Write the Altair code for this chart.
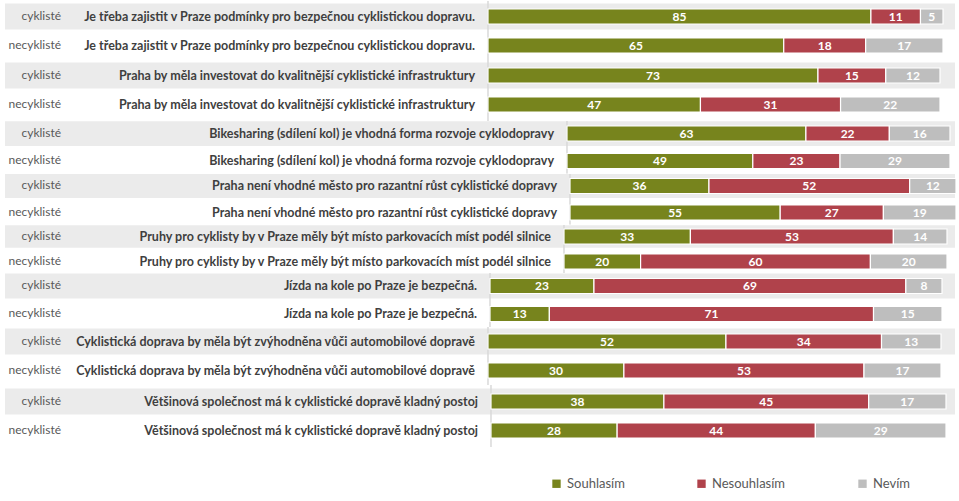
import altair as alt
import pandas as pd

statements = [
    "Je třeba zajistit v Praze podmínky pro bezpečnou cyklistickou dopravu.",
    "Praha by měla investovat do kvalitnější cyklistické infrastruktury",
    "Bikesharing (sdílení kol) je vhodná forma rozvoje cyklodopravy",
    "Praha není vhodné město pro razantní růst cyklistické dopravy",
    "Pruhy pro cyklisty by v Praze měly být místo parkovacích míst podél silnice",
    "Jízda na kole po Praze je bezpečná.",
    "Cyklistická doprava by měla být zvýhodněna vůči automobilové dopravě",
    "Většinová společnost má k cyklistické dopravě kladný postoj",
]
groups = ["cyklisté", "necyklisté"]
answers = ["Souhlasím", "Nesouhlasím", "Nevím"]

souhlasim_cykliste = [85, 73, 63, 36, 33, 23, 52, 38]
nesouhlasim_cykliste = [11, 15, 22, 52, 53, 69, 34, 45]
nevim_cykliste = [5, 12, 16, 12, 14, 8, 13, 17]
souhlasim_necykliste = [65, 47, 49, 55, 20, 13, 30, 28]
nesouhlasim_necykliste = [18, 31, 23, 27, 60, 71, 53, 44]
nevim_necykliste = [17, 22, 29, 19, 20, 15, 17, 29]

colors = ["#77841D", "#B0424B", "#BEBEBE"]

rows = []
vals = {
    "cyklisté": [souhlasim_cykliste, nesouhlasim_cykliste, nevim_cykliste],
    "necyklisté": [souhlasim_necykliste, nesouhlasim_necykliste, nevim_necykliste],
}
for si, st in enumerate(statements):
    for g in groups:
        for ai, a in enumerate(answers):
            rows.append({"sid": si, "statement": st, "group": g, "answer": a,
                         "order": ai, "value": vals[g][ai][si]})
df = pd.DataFrame(rows)

W = 950
# layout per panel: bar start px, bar end px (plot coords), panel height, row step, align
layout = [
    (483, 938, 60, 29, 0.5),
    (483, 935, 60, 29, 0.3),
    (562, 945, 52.5, 27.5, 0.5),
    (565, 951, 50.5, 26.5, 0.5),
    (559, 942, 48, 25, 0.5),
    (485, 937, 54, 28, 0.5),
    (483, 936, 58, 29, 0.5),
    (486, 941, 62, 29, 0.5),
]

FONT = "Lato"
color_scale = alt.Scale(domain=answers, range=colors)

panels = []
for si, (a, b, H, s, al) in enumerate(layout):
    unit = b - a
    d0 = -a / unit
    d1 = (W - a) / unit
    pi = 0.1
    po = max(0.0, (H / s - 2 + pi) / 2)
    xs = alt.Scale(domain=[d0, d1], nice=False, zero=False)
    ys = alt.Scale(domain=groups, paddingInner=pi, paddingOuter=po, align=al)
    y = alt.Y("group:N", scale=ys, axis=None)

    base = alt.Chart(df).transform_filter(alt.datum.sid == si)

    band = base.transform_filter(
        (alt.datum.group == "cyklisté") & (alt.datum.answer == "Souhlasím")
    ).mark_rect(color="#EBEBEB").encode(x=alt.value(0), x2=alt.value(W), y=y)

    rule = base.transform_filter(alt.datum.answer == "Souhlasím").transform_calculate(
        zero="0"
    ).mark_rule(color="#D9D9D9", strokeWidth=1).encode(
        x=alt.X("zero:Q", scale=xs, axis=None)
    )

    stacked = base.transform_stack(
        stack="value", groupby=["group"], as_=["x0", "x1"],
        offset="normalize", sort=[alt.SortField("order", order="ascending")]
    ).transform_calculate(mid="(datum.x0 + datum.x1) / 2")

    bars = stacked.mark_bar(size=15, stroke="white", strokeWidth=1.2).encode(
        x=alt.X("x0:Q", scale=xs, axis=None, title=None),
        x2="x1:Q",
        y=y,
        color=alt.Color("answer:N", scale=color_scale, sort=answers,
                        legend=alt.Legend(
                            title=None, orient="none", direction="horizontal",
                            legendX=545, legendY=476, symbolType="square",
                            symbolSize=70, symbolStrokeWidth=0,
                            labelFont=FONT, labelFontSize=13, labelColor="#595959",
                            columnPadding=70, labelOffset=4,
                        )),
    )
    labels = stacked.mark_text(
        font=FONT, fontSize=12, fontWeight="bold", color="white", baseline="middle"
    ).encode(x=alt.X("mid:Q", scale=xs, axis=None), y=y, text="value:Q")

    stmt = base.transform_filter(alt.datum.answer == "Souhlasím").transform_calculate(
        zero="0"
    ).mark_text(
        font=FONT, fontSize=12.5, fontWeight="bold", color="#3F3F3F",
        align="right", baseline="middle", dx=-13
    ).encode(x=alt.X("zero:Q", scale=xs, axis=None), y=y, text="statement:N")

    grp = base.transform_filter(alt.datum.answer == "Souhlasím").mark_text(
        font=FONT, fontSize=12, color="#595959", align="right", baseline="middle", dy=-1
    ).encode(x=alt.value(56), y=y, text="group:N")

    panel = alt.layer(band, rule, bars, labels, stmt, grp).properties(width=W, height=H)
    panels.append(panel)

chart = alt.vconcat(*panels, spacing=0, bounds="flush").resolve_scale(
    x="independent", y="independent", color="shared"
).properties(
    padding={"left": 5, "top": 0, "right": 0, "bottom": 0},
    background="white",
).configure_view(strokeWidth=0, stroke="transparent")

chart.save("out.html", embed_options={"renderer": "svg", "actions": False})
